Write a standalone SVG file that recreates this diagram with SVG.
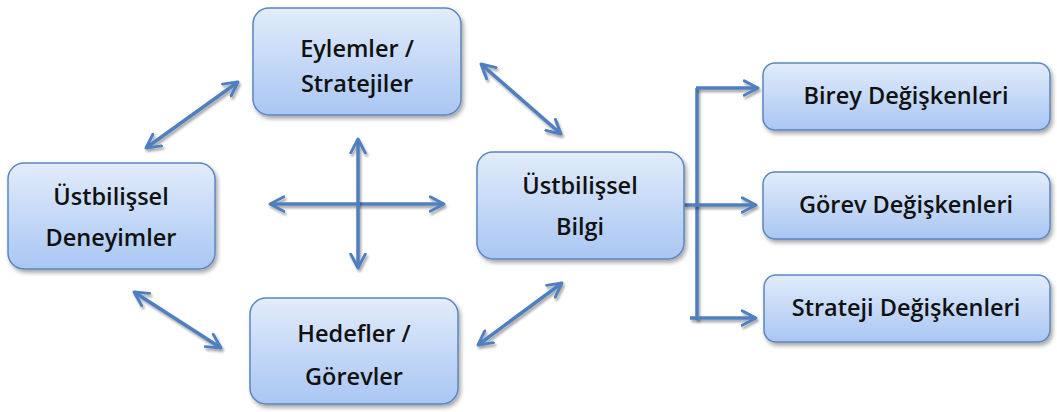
<svg xmlns="http://www.w3.org/2000/svg" width="1057" height="412" viewBox="0 0 1057 412">
<style>
.box{fill:url(#g);stroke:#5b86c0;stroke-width:1.5;filter:url(#sh)}
.t{font-family:"Open Sans","Noto Sans",sans-serif;font-weight:600;font-size:23.5px;fill:#111;text-anchor:middle}
.c{fill:none;stroke:#4f7fbf;stroke-width:3.5;filter:url(#lsh)}
.a{marker-start:url(#ah);marker-end:url(#ah)}
.e{marker-end:url(#ah)}
</style>
<defs>
<linearGradient id="g" x1="0" y1="0" x2="0" y2="1">
<stop offset="0" stop-color="#e2ecfb"/>
<stop offset="1" stop-color="#a9c6f3"/>
</linearGradient>
<filter id="sh" x="-10%" y="-10%" width="125%" height="130%">
<feDropShadow dx="2" dy="3" stdDeviation="2" flood-color="#000" flood-opacity="0.35"/>
</filter>
<filter id="lsh" filterUnits="userSpaceOnUse" x="0" y="0" width="1057" height="412">
<feDropShadow dx="1.5" dy="2.5" stdDeviation="1" flood-color="#000" flood-opacity="0.35"/>
</filter>
<marker id="ah" viewBox="0 0 12 12" refX="10.5" refY="6" markerWidth="5" markerHeight="5" orient="auto-start-reverse" markerUnits="strokeWidth">
<path d="M1,1 L10.5,6 L1,11" fill="none" stroke="#4f7fbf" stroke-width="2" stroke-linecap="round" stroke-linejoin="round"/>
</marker>
</defs>
<g id="connectors">
<line class="c a" x1="146" y1="148" x2="238" y2="82"/>
<line class="c a" x1="481" y1="64" x2="561" y2="134"/>
<line class="c a" x1="134" y1="292" x2="221" y2="348"/>
<line class="c a" x1="478" y1="345" x2="562" y2="283"/>
<line class="c a" x1="270" y1="204" x2="444" y2="204"/>
<line class="c a" x1="358" y1="139" x2="358" y2="268"/>
<polyline class="c" points="697,320 697,88"/>
<line class="c e" x1="696" y1="88" x2="758" y2="88"/>
<line class="c e" x1="684" y1="205" x2="756" y2="205"/>
<line class="c e" x1="690" y1="318" x2="756" y2="318"/>
</g>
<g id="eylemler">
<rect class="box" x="253" y="8" width="208" height="107" rx="16"/>
<text class="t" x="357" y="57">Eylemler /</text>
<text class="t" x="357" y="92">Stratejiler</text>
</g>
<g id="deneyimler">
<rect class="box" x="8" y="163" width="207" height="106" rx="16"/>
<text class="t" x="111" y="205">Üstbilişsel</text>
<text class="t" x="111" y="246">Deneyimler</text>
</g>
<g id="hedefler">
<rect class="box" x="250" y="298" width="208" height="106" rx="16"/>
<text class="t" x="354" y="342">Hedefler /</text>
<text class="t" x="354" y="385">Görevler</text>
</g>
<g id="bilgi">
<rect class="box" x="477" y="152" width="207" height="107" rx="16"/>
<text class="t" x="580" y="194">Üstbilişsel</text>
<text class="t" x="580" y="235">Bilgi</text>
</g>
<g id="birey">
<rect class="box" x="763" y="63" width="287" height="67" rx="12"/>
<text class="t" x="906" y="104">Birey Değişkenleri</text>
</g>
<g id="gorev">
<rect class="box" x="763" y="172" width="287" height="67" rx="12"/>
<text class="t" x="906" y="213">Görev Değişkenleri</text>
</g>
<g id="strateji">
<rect class="box" x="764" y="275" width="286" height="67" rx="12"/>
<text class="t" x="906" y="316">Strateji Değişkenleri</text>
</g>
</svg>
